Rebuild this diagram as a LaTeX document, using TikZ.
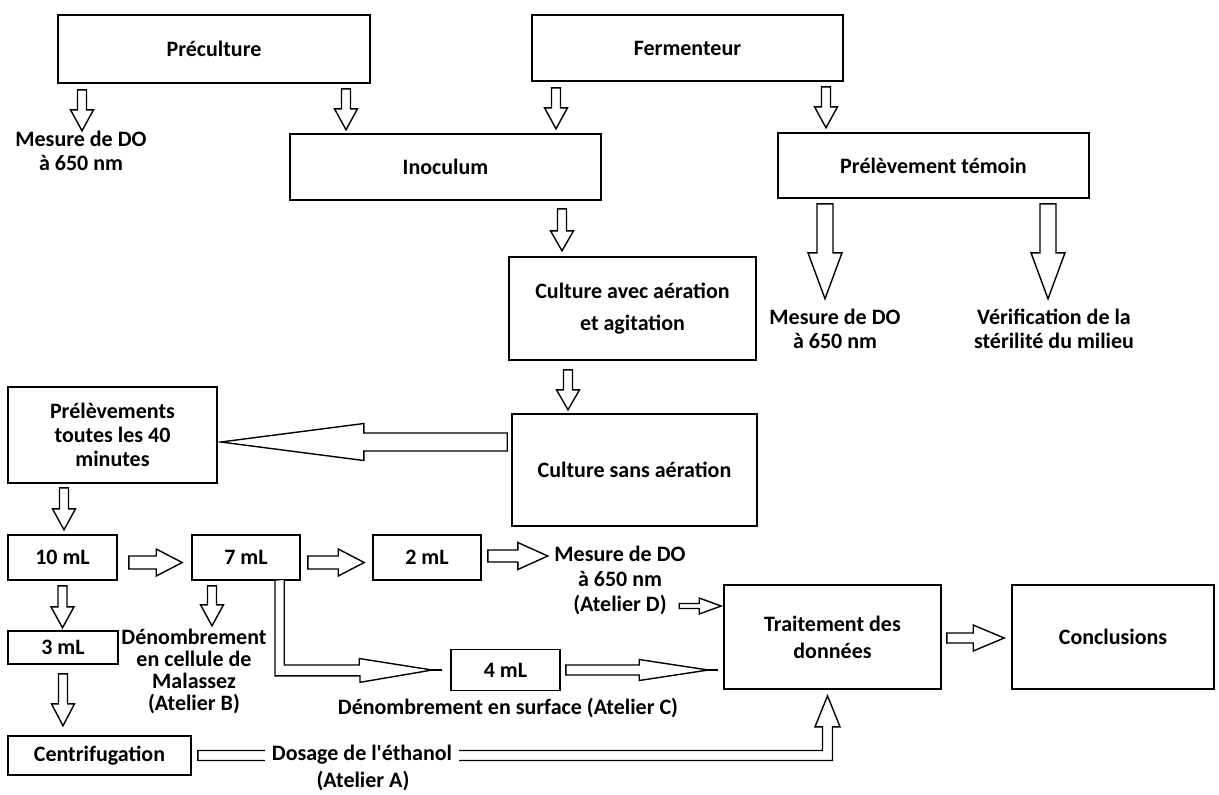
\documentclass[tikz,border=0pt]{standalone}
\usepackage{fontspec}
\setmainfont{Carlito}
\usepackage{tikz}
\usetikzlibrary{calc, backgrounds}
\tikzstyle{bx}=[draw, line width=0.8pt, inner sep=0pt, align=center, font=\fontsize{11}{12}\selectfont\bfseries]
\tikzstyle{lbl}=[inner sep=0pt, align=center, font=\fontsize{11}{12}\selectfont\bfseries]
\tikzstyle{blk}=[draw, line width=0.7pt, fill=white]
\newcommand{\fatarr}[5]{%
  \coordinate (fs) at (#1);
  \coordinate (fe) at (#2);
  \draw[blk] ($(fs)!#3!90:(fe)$) -- ($(fe)!#5!(fs)!#3!-90:(fs)$)
    -- ($(fe)!#5!(fs)!#4!-90:(fs)$) -- (fe)
    -- ($(fe)!#5!(fs)!#4!90:(fs)$) -- ($(fe)!#5!(fs)!#3!90:(fs)$)
    -- ($(fs)!#3!-90:(fe)$) -- cycle;
}

\begin{document}
\begin{tikzpicture}[x=0.5pt, y=-0.5pt]
\useasboundingbox (0,0) rectangle (1219,794);

\node[bx, minimum width=156pt, minimum height=34pt] (pre) at (214,49) {Préculture};
\node[bx, minimum width=155.5pt, minimum height=33pt] (ferm) at (687.5,48) {Fermenteur};
\node[bx, minimum width=155.5pt, minimum height=33pt] (ino) at (445.5,167) {Inoculum};
\node[bx, minimum width=155.5pt, minimum height=32.5pt] (tem) at (933.5,165.5) {Prélèvement témoin};
\node[bx, minimum width=123.5pt, minimum height=51.5pt, font=\fontsize{11}{16}\selectfont\bfseries] (cav) at (632.5,308.5) {Culture avec aération\\et agitation};
\node[bx, minimum width=122.5pt, minimum height=56pt] (csa) at (634.5,470) {Culture sans aération};
\node[bx, minimum width=104.5pt, minimum height=48pt] (prel) at (112.5,435) {Prélèvements\\toutes les 40\\minutes};
\node[bx, minimum width=54.5pt, minimum height=22.5pt] (ten) at (62.5,557.5) {10 mL};
\node[bx, minimum width=54pt, minimum height=22.5pt] (sev) at (246,557.5) {7 mL};
\node[bx, minimum width=54pt, minimum height=22.5pt] (two) at (427,557.5) {2 mL};
\node[bx, minimum width=55pt, minimum height=16.5pt] (thr) at (63,647.5) {3 mL};
\node[bx, minimum width=91.5pt, minimum height=19.5pt] (cen) at (99.5,755.5) {Centrifugation};
\node[bx, minimum width=54.5pt, minimum height=20.5pt] (fou) at (505.5,670) {4 mL};
\node[bx, minimum width=108.5pt, minimum height=52pt, font=\fontsize{11}{13.5}\selectfont\bfseries] (tra) at (832.5,637) {Traitement des\\données};
\node[bx, minimum width=101pt, minimum height=52pt] (con) at (1113,637) {Conclusions};

\node[lbl] (mes1) at (81,151) {Mesure de DO\\à 650 nm};
\node[lbl] (mes2) at (835,329) {Mesure de DO\\à 650 nm};
\node[lbl] (ver) at (1054,329) {Vérification de la\\stérilité du milieu};
\node[lbl, font=\fontsize{11}{11}\selectfont\bfseries] (den) at (194,671) {Dénombrement\\en cellule de\\Malassez\\(Atelier B)};
\node[lbl, font=\fontsize{11}{12.5}\selectfont\bfseries] (mes3) at (620,580) {Mesure de DO\\à 650 nm\\(Atelier D)};
\node[lbl] (surf) at (508,708) {Dénombrement en surface (Atelier C)};
\node[lbl, fill=white, inner sep=3.5pt] (dos) at (362,755) {Dosage de l\textquotesingle éthanol};
\node[lbl] (ata) at (363,781) {(Atelier A)};

\fatarr{$(pre.south)+(-132,6)$}{$(pre.south)+(-132,47)$}{2.25pt}{5.75pt}{10.5pt}
\fatarr{$(pre.south)+(132,5)$}{$(pre.south)+(132,46)$}{2.25pt}{5.75pt}{10.5pt}
\fatarr{$(ferm.south)+(-131.5,6)$}{$(ferm.south)+(-131.5,47)$}{2.25pt}{5.75pt}{10.5pt}
\fatarr{$(ferm.south)+(138.5,5)$}{$(ferm.south)+(138.5,46)$}{2.25pt}{5.75pt}{10.5pt}

\fatarr{$(tem.south)+(-108.5,5)$}{$(tem.south)+(-108.5,100)$}{4pt}{8.5pt}{23pt}
\fatarr{$(tem.south)+(114.5,5)$}{$(tem.south)+(114.5,100)$}{4pt}{8.5pt}{23pt}

\fatarr{$(ino.south)+(116.5,8)$}{$(ino.south)+(116.5,50)$}{2.25pt}{5.75pt}{10pt}
\fatarr{$(cav.south)+(-64.5,9)$}{$(cav.south)+(-64.5,49)$}{2.25pt}{5.75pt}{10pt}
\fatarr{$(csa.west)+(-4,-28)$}{$(prel.east)+(3,7)$}{4.5pt}{9.25pt}{71.5pt}

\fatarr{$(prel.south)+(-48.5,4)$}{$(prel.south)+(-48.5,46)$}{2.25pt}{5.75pt}{10.5pt}
\fatarr{$(ten.south)+(0,5)$}{$(ten.south)+(0,47)$}{2.25pt}{5.75pt}{10.5pt}
\fatarr{$(thr.south)+(0,9)$}{$(thr.south)+(0,61)$}{2.25pt}{5.75pt}{11pt}
\fatarr{$(sev.south)+(-34,5)$}{$(sev.south)+(-34,45)$}{2.25pt}{5.75pt}{10.5pt}

\fatarr{$(ten.east)+(11,5)$}{$(sev.west)+(-9,5)$}{3.25pt}{6.75pt}{13pt}
\fatarr{$(sev.east)+(7,5)$}{$(two.west)+(-8,5)$}{3.25pt}{6.75pt}{13pt}
\fatarr{$(two.east)+(6,-1.5)$}{$(two.east)+(66,-1.5)$}{3pt}{6.75pt}{15pt}
\fatarr{$(tra.west)+(-44,-31)$}{$(tra.west)+(-2,-31)$}{1.25pt}{4pt}{11pt}
\fatarr{$(tra.east)+(5,1)$}{$(con.west)+(-7,1)$}{2.5pt}{6.5pt}{15.5pt}

\draw[blk] ($(sev.south)+(29,0)$) -- ++(0,95) -- ++(85,0) -- ++(0,6.5) -- ($(fou.west)+(-18,0)$) -- ++(-73,-11.5) -- ++(0,6.5) -- ++(-75,0) -- ++(0,-85);
\draw[line width=1.3pt] ($(fou.west)+(-18,0)$) -- ($(fou.west)+(-8,0)$);
\fatarr{$(fou.east)+(5,0)$}{$(tra.west)+(-15,33)$}{2.5pt}{5.25pt}{34.5pt}
\draw[line width=1.3pt] ($(tra.west)+(-15,33)$) -- ($(tra.west)+(-5,33)$);

\begin{scope}[on background layer]
\draw[blk] ($(cen.east)+(6,-5)$) -| ($(tra.south)+(-10,37)$) -- ++(-7.5,0) -- ($(tra.south)+(-5,6)$) -- ++(12.5,31) -- ++(-7.5,0) |- ($(cen.east)+(6,5)$) -- cycle;
\end{scope}
\end{tikzpicture}
\end{document}
